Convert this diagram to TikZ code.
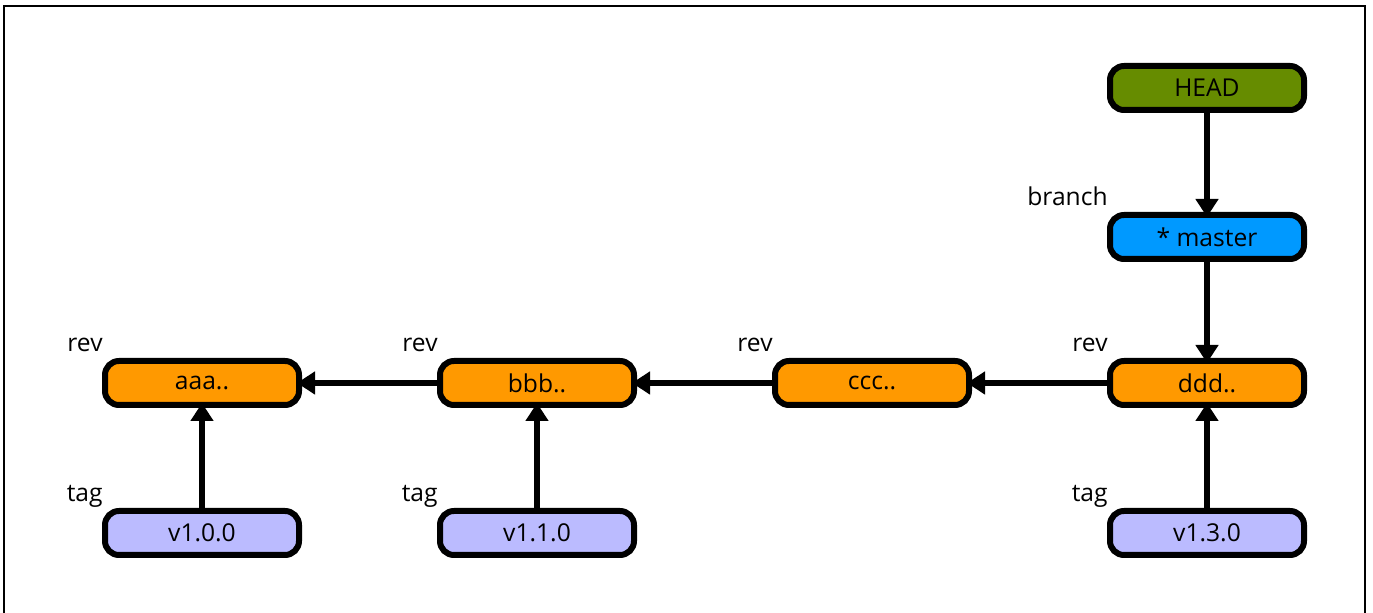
\documentclass[tikz,border=0pt]{standalone}
\usepackage{fontspec}
\setmainfont{Open Sans}
\usetikzlibrary{arrows.meta}
\definecolor{headgreen}{HTML}{668C00}
\definecolor{branchblue}{HTML}{0099FF}
\definecolor{revorange}{HTML}{FF9900}
\definecolor{taglilac}{HTML}{BBBBFF}
\begin{document}
\begin{tikzpicture}[x=0.5pt,y=-0.5pt,font=\fontsize{12.3}{14}\selectfont,
  ref/.style={draw,line width=3pt,rounded corners=7pt,minimum width=97pt,minimum height=22pt,inner sep=0pt},
  lbl/.style={label={[anchor=base east,inner sep=0pt,yshift=3.3pt,xshift=0.5pt]north west:#1}},
  ptr/.style={line width=3pt,shorten >=-2.5pt,-{Triangle[length=9pt,width=11pt]}}]
  \useasboundingbox (0,0) rectangle (1373,613);
  \draw[line width=0.9pt] (4,620) -- (4,6) -- (1365,6) -- (1365,620);

  \node[ref,fill=headgreen] (head) at (1207,88) {HEAD};
  \node[ref,fill=branchblue,lbl=branch] (master) at (1207,237) {* master};

  \node[ref,fill=revorange,lbl=rev] (aaa) at (202,383) {aaa..};
  \node[ref,fill=revorange,lbl=rev] (bbb) at (537,383) {bbb..};
  \node[ref,fill=revorange,lbl=rev] (ccc) at (872,383) {ccc..};
  \node[ref,fill=revorange,lbl=rev] (ddd) at (1207,383) {ddd..};

  \node[ref,fill=taglilac,lbl=tag] (t100) at (202,533) {v1.0.0};
  \node[ref,fill=taglilac,lbl=tag] (t110) at (537,533) {v1.1.0};
  \node[ref,fill=taglilac,lbl=tag] (t130) at (1207,533) {v1.3.0};

  \draw[ptr] (head) -- (master);
  \draw[ptr] (master) -- (ddd);
  \draw[ptr] (ddd) -- (ccc);
  \draw[ptr] (ccc) -- (bbb);
  \draw[ptr] (bbb) -- (aaa);
  \draw[ptr] (t100) -- (aaa);
  \draw[ptr] (t110) -- (bbb);
  \draw[ptr] (t130) -- (ddd);
\end{tikzpicture}
\end{document}
